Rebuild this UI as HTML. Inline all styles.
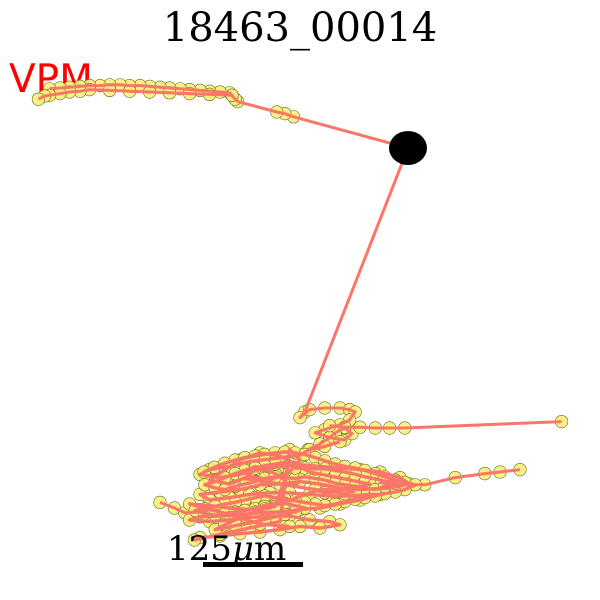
<!DOCTYPE html>
<html><head><meta charset="utf-8"><style>
body{margin:0;background:#fff}
svg{display:block}
</style></head><body>
<svg id="chart" width="600" height="600" viewBox="0 0 600 600">
<text x="300" y="41" text-anchor="middle" font-family="'DejaVu Serif','Liberation Serif',serif" font-size="40" fill="#000">18463_00014</text>
<text x="9" y="92" font-family="'DejaVu Sans','Liberation Sans',sans-serif" font-size="39" fill="#ff0000">VPM</text>
<g id="nodes"></g>
<g id="lines2"></g>
<ellipse cx="408" cy="148" rx="19" ry="17" fill="#000"/>
<text x="167" y="560" font-family="'DejaVu Serif','Liberation Serif',serif" font-size="34" fill="#000">125<tspan font-style="italic">μ</tspan>m</text>
<rect x="203" y="562" width="100" height="5" fill="#000"/>
</svg>
<script>
// node coordinates in microns (scale: 1 px = 1.25 um)
const axonTop = [[510,185],[367,146],[356,142],[346,140],[297,127],[294,124],[290,119],[287,116],[275,115],[262,114],[250,113],[237,112],[225,111],[212,110],[200,109],[187,108],[175,107],[162,107],[150,106],[137,106],[125,107],[112,107],[100,108],[87,109],[75,110],[62,111]];
const axonTopReturn = [[290,119],[262,118],[237,117],[212,116],[187,115],[162,114],[137,113],[112,112],[100,114],[87,115],[75,117],[62,119],[56,120],[48,124]];
const axonDown = [[510,185],[381,515]];
const loopTop = [[381,515],[375,522],[387,512],[406,510],[425,510],[437,512],[444,515],[437,525],[425,531],[406,537],[394,541],[412,547],[431,550],[440,542],[431,535],[419,541],[412,547],[400,555],[385,562]];
const rightBranch = [[412,532],[431,534],[450,534],[469,535],[487,535],[506,535],[702,527]];
const rightLower = [[650,587],[625,590],[606,592],[569,597],[531,606],[506,606],[487,605],[475,603]];
const leftBranch = [[200,628],[218,635],[231,641],[250,640],[262,637]];
const cluster = [[425,552],[406,558],[387,562],[375,569],[344,573],[312,577],[287,583],[262,587],[250,593],[275,597],[300,593],[325,587],[350,583],[375,581],[400,583],[425,585],[450,587],[475,590],[500,597],[512,605],[487,610],[450,612],[425,610],[400,605],[375,602],[350,605],[325,606],[300,612],[275,615],[250,618],[262,625],[287,622],[312,618],[337,616],[362,616],[387,618],[412,620],[437,620],[462,618],[475,618],[450,625],[425,630],[400,635],[375,637],[350,640],[325,641],[300,643],[275,645],[250,646],[237,650],[262,652],[287,650],[312,647],[337,645],[362,645],[387,650],[412,652],[425,656],[400,660],[375,658],[350,662],[325,665],[300,667],[275,670],[250,672],[243,675],[275,668],[312,660],[350,652],[362,562],[375,575],[362,590],[337,600],[312,595],[287,605],[262,600],[300,575],[325,566],[350,570],[387,590],[412,595],[437,600],[462,605],[437,612],[400,612],[362,625],[337,630],[312,637],[287,635],[262,632],[237,630],[275,640],[325,655],[362,658]];
const cluster2 = [[255,590],[268,584],[281,579],[294,575],[306,572],[319,570],[331,568],[344,566],[356,565],[369,566],[381,568],[394,572],[406,576],[419,580],[431,583],[444,585],[456,588],[469,592],[481,596],[494,600],[506,603],[519,606],[506,612],[494,615],[481,617],[469,620],[456,622],[444,624],[431,627],[419,630],[406,632],[394,630],[381,628],[369,626],[356,624],[344,622],[331,620],[319,622],[306,625],[294,628],[281,630],[269,633],[256,636],[244,638],[256,642],[269,644],[281,642],[294,640],[306,638],[319,636],[331,633],[344,631],[356,629],[369,632],[381,635],[369,640],[356,643],[344,646],[331,649],[319,652],[306,655],[294,657],[281,660],[269,662],[281,656],[294,650],[306,645],[319,640],[331,636],[344,633],[356,600],[344,592],[331,587],[319,583],[306,588],[294,592],[281,597],[269,602],[256,606],[269,610],[281,612],[294,608],[306,605],[319,602],[331,598],[344,596],[369,598],[381,596],[394,598],[406,600],[419,604],[431,606],[444,608],[456,610],[469,612],[481,608],[494,604],[456,596],[444,593],[431,590],[419,588],[406,586],[394,586],[381,585],[369,585],[356,578],[344,580],[331,582],[319,585],[306,598],[394,612],[406,616],[419,615],[431,617],[444,614]];
const X = v => v / 1.25;
const Y = v => v / 1.25;
const NS = 'http://www.w3.org/2000/svg';
const paths = [axonTop, axonTopReturn, axonDown, loopTop, rightBranch, rightLower, leftBranch, cluster, cluster2];
const gN = document.getElementById('nodes');
const gL2 = document.getElementById('lines2');
paths.forEach((p, i) => {
  const pts = p.map(d => X(d[0]) + ',' + Y(d[1])).join(' ');
  const pl = document.createElementNS(NS, 'polyline');
  
  
  pl.setAttribute('points', pts);
  pl.setAttribute('fill', 'none');
  pl.setAttribute('stroke', '#fa7668');
  pl.setAttribute('stroke-width', i >= 7 ? '3.4' : '3');
  pl.setAttribute('stroke-linejoin', 'round');
  gL2.appendChild(pl);
  p.forEach((d, j) => {
    if (i === 2) return;
    if (i === 0 && j === 0) return;
    const c = document.createElementNS(NS, 'circle');
    
    
    c.setAttribute('cx', X(d[0]));
    c.setAttribute('cy', Y(d[1]));
    c.setAttribute('r', '6.3');
    c.setAttribute('fill', '#f7f07a');
    c.setAttribute('fill-opacity', '0.9');
    c.setAttribute('stroke', '#6b6b20');
    c.setAttribute('stroke-width', '0.6');
    gN.appendChild(c);
  });
});
</script>
</body></html>
